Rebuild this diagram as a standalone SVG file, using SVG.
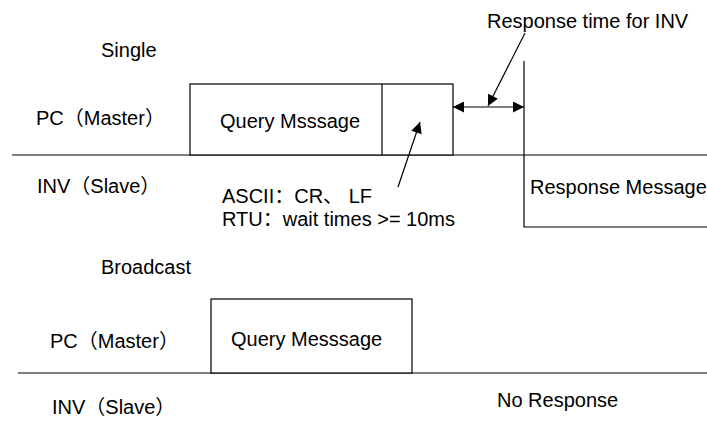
<svg xmlns="http://www.w3.org/2000/svg" width="707" height="421" viewBox="0 0 707 421">
<style>
text{font-family:"Liberation Sans","Noto Sans CJK SC",Arial,sans-serif;font-size:20px;fill:#000}
.ln{stroke:#000;stroke-width:1.2;fill:none}
.box{stroke:#000;stroke-width:1.2;fill:#fff}
</style>
<defs>
<marker id="ah" viewBox="0 0 10 10" refX="10" refY="5" markerWidth="15" markerHeight="11" markerUnits="userSpaceOnUse" orient="auto-start-reverse">
<path d="M0,0 L10,5 L0,10 z" fill="#000"/>
</marker>
</defs>
<rect width="707" height="421" fill="#fff"/>
<g id="labels">
<text x="101" y="57">Single</text>
<text x="36" y="125">PC（Master）</text>
<text x="37" y="193">INV（Slave）</text>
<text x="487" y="28">Response time for INV</text>
<text x="222" y="203">ASCII：CR、 LF</text>
<text x="222" y="226">RTU：wait times &gt;= 10ms</text>
<text x="101" y="274">Broadcast</text>
<text x="50" y="348">PC（Master）</text>
<text x="52" y="414">INV（Slave）</text>
<text x="497" y="407">No Response</text>
</g>
<g id="single-bus">
<line class="ln" x1="12" y1="155" x2="707" y2="155"/>
</g>
<g id="query-single">
<rect class="box" x="190" y="84" width="263" height="71"/>
<line class="ln" x1="382" y1="84" x2="382" y2="155"/>
<text x="220" y="128">Query Msssage</text>
</g>
<g id="response-single">
<polyline class="ln" points="524,61 524,227 707,227"/>
<text x="530" y="194">Response Message</text>
</g>
<g id="broadcast-bus">
<line class="ln" x1="18" y1="373" x2="707" y2="373"/>
</g>
<g id="query-broadcast">
<rect class="box" x="211" y="299" width="201" height="74"/>
<text x="231" y="346">Query Messsage</text>
</g>
<g id="connectors">
<line class="ln" x1="453" y1="107" x2="524" y2="107" marker-start="url(#ah)" marker-end="url(#ah)"/>
<line class="ln" x1="525" y1="33" x2="488" y2="106" marker-end="url(#ah)"/>
<line class="ln" x1="398" y1="187" x2="420" y2="122" marker-end="url(#ah)"/>
</g>
</svg>
